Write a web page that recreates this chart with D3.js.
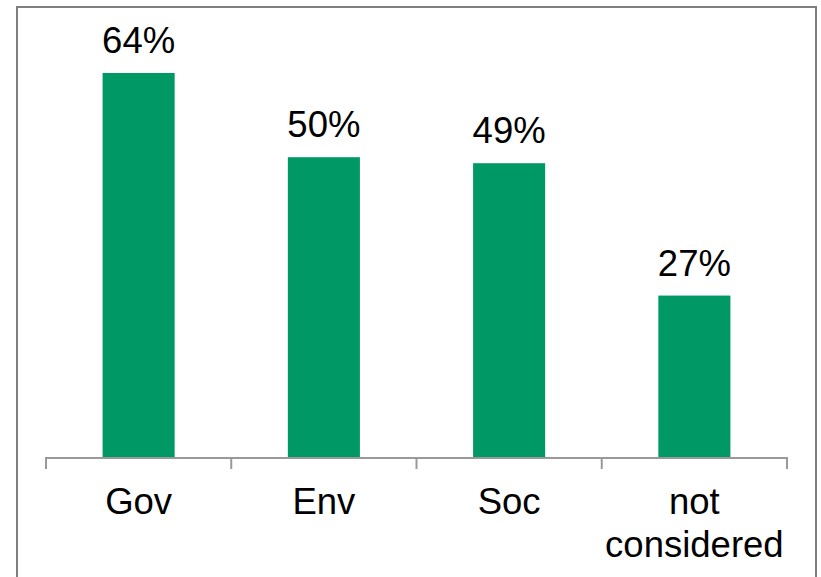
<!DOCTYPE html>
<html><head><meta charset="utf-8">
<script src="https://cdn.jsdelivr.net/npm/d3@7"></script>
<style>body{margin:0;background:#fff}</style>
</head><body>
<svg id="chart" width="821" height="577"></svg>
<script>
const categories = ["Gov", "Env", "Soc", "not considered"];
const values = [64, 50, 49, 27];
const valueLabels = ["64%", "50%", "49%", "27%"];

const svg = d3.select("#chart");
svg.append("rect").attr("x", 17).attr("y", 7).attr("width", 799).attr("height", 600)
  .attr("fill", "#fff").attr("stroke", "#7f7f7f").attr("stroke-width", 2);

const x = d3.scaleBand().domain(categories).range([46, 787]).paddingInner(0.611).paddingOuter(0.3055);
const y = d3.scaleLinear().domain([0, 70]).range([458, 458 - 70 * 6.016]);

svg.selectAll("rect.bar").data(values).join("rect").attr("class", "bar")
  .attr("x", (d, i) => x(categories[i])).attr("width", x.bandwidth())
  .attr("y", d => y(d)).attr("height", d => y(0) - y(d)).attr("fill", "#009966");

svg.selectAll("text.val").data(values).join("text").attr("class", "val")
  .attr("x", (d, i) => x(categories[i]) + x.bandwidth() / 2)
  .attr("y", d => y(d) - 20).attr("text-anchor", "middle")
  .attr("font-family", "Liberation Sans, Arial, sans-serif").attr("font-size", 36.5)
  .attr("fill", "#000").text((d, i) => valueLabels[i]);

// axis
const axisG = svg.append("g");
const step = (787 - 46) / categories.length;
axisG.append("line").attr("x1", 46).attr("x2", 787).attr("y1", 458).attr("y2", 458)
  .attr("stroke", "#999").attr("stroke-width", 2);
d3.range(categories.length + 1).forEach(i => {
  const tx = 46 + i * step;
  axisG.append("line").attr("x1", tx).attr("x2", tx).attr("y1", 457).attr("y2", 469)
    .attr("stroke", "#999").attr("stroke-width", 2);
});

categories.forEach((c, i) => {
  const cx = x(c) + x.bandwidth() / 2;
  const words = c === "not considered" ? ["not", "considered"] : [c];
  const t = svg.append("text").attr("text-anchor", "middle")
    .attr("font-family", "Liberation Sans, Arial, sans-serif").attr("font-size", 36.5).attr("fill", "#000");
  words.forEach((w, j) => t.append("tspan").attr("x", cx).attr("y", 514 + j * 43).text(w));
});
</script>
</body></html>
